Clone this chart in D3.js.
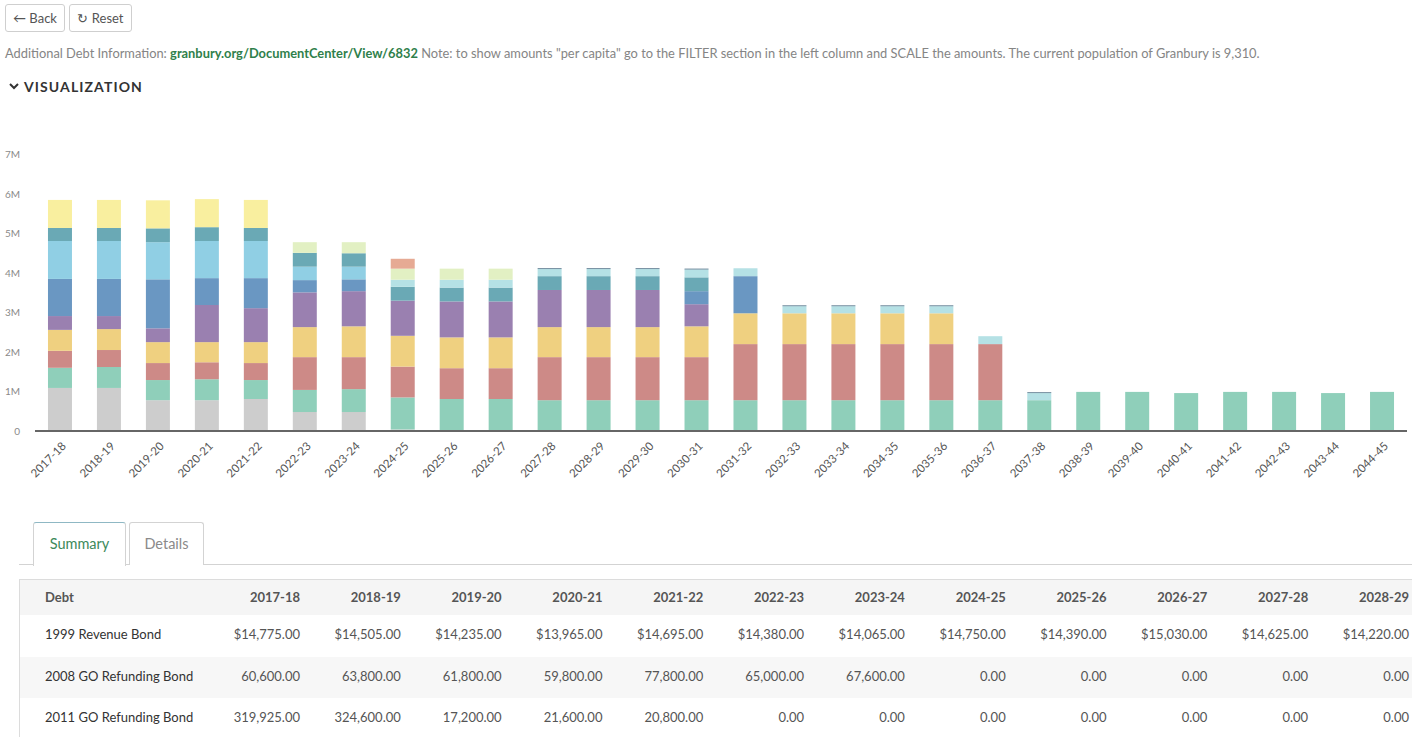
<!DOCTYPE html>
<html>
<head>
<meta charset="utf-8">
<script src="https://cdn.jsdelivr.net/npm/d3@7/dist/d3.min.js"></script>
<style>
  html, body { margin: 0; padding: 0; background: #fff; width: 1412px; height: 737px; overflow: hidden; font-family: Lato, "Open Sans", sans-serif; }
  .abs { position: absolute; }
  .btn { position: absolute; top: 4px; height: 26px; border: 1px solid #cfcfcf; border-radius: 3px; font-size: 13px; color: #555; line-height: 26px; box-sizing: content-box; text-align: center; }
  #info { position: absolute; left: 5px; top: 45px; font-size: 12.85px; color: #858585; white-space: nowrap; }
  #info b { color: #2f7f4b; font-weight: 700; }
  #vis { position: absolute; left: 24px; top: 78px; font-size: 14px; font-weight: 700; color: #333; letter-spacing: 1.1px; }
  .tab { position: absolute; top: 522px; height: 42px; border: 1px solid #d3d3d3; border-bottom: none; border-radius: 3px 3px 0 0; font-size: 14.5px; line-height: 42px; text-align: center; background: #fff; }
  .cell { position: absolute; font-size: 13px; color: #555; white-space: nowrap; }
</style>
</head>
<body>
<script>
// ---------- data ----------
const years = ["2017-18","2018-19","2019-20","2020-21","2021-22","2022-23","2023-24","2024-25","2025-26","2026-27","2027-28","2028-29","2029-30","2030-31","2031-32","2032-33","2033-34","2034-35","2035-36","2036-37","2037-38","2038-39","2039-40","2040-41","2041-42","2042-43","2043-44","2044-45"];

// values in millions of dollars, stacked bottom to top
const seriesGray      = [1.09,1.09,0.78,0.78,0.81,0.48,0.48,0.04,0,0,0,0,0,0,0,0,0,0,0,0,0,0,0,0,0,0,0,0];
const seriesGreen     = [0.51,0.53,0.51,0.53,0.48,0.56,0.58,0.81,0.81,0.81,0.78,0.78,0.78,0.78,0.78,0.78,0.78,0.78,0.78,0.78,0.78,0.99,0.99,0.96,0.99,0.99,0.96,0.99];
const seriesRed       = [0.43,0.43,0.43,0.43,0.43,0.83,0.81,0.78,0.78,0.78,1.09,1.09,1.09,1.09,1.42,1.42,1.42,1.42,1.42,1.42,0,0,0,0,0,0,0,0];
const seriesOrange    = [0.53,0.53,0.53,0.51,0.53,0.76,0.78,0.78,0.78,0.78,0.76,0.76,0.76,0.78,0.78,0.78,0.78,0.78,0.78,0,0,0,0,0,0,0,0,0];
const seriesPurple    = [0.35,0.33,0.35,0.94,0.86,0.88,0.89,0.89,0.91,0.91,0.94,0.94,0.94,0.56,0,0,0,0,0,0,0,0,0,0,0,0,0,0];
const seriesBlue      = [0.94,0.94,1.24,0.68,0.76,0.31,0.30,0,0,0,0,0,0,0.33,0.94,0,0,0,0,0,0,0,0,0,0,0,0,0];
const seriesLightBlue = [0.96,0.96,0.94,0.94,0.94,0.34,0.32,0,0,0,0,0,0,0,0,0,0,0,0,0,0,0,0,0,0,0,0,0];
const seriesTeal      = [0.33,0.33,0.35,0.35,0.33,0.35,0.34,0.35,0.35,0.35,0.35,0.35,0.35,0.35,0,0,0,0,0,0,0,0,0,0,0,0,0,0];
const seriesYellow    = [0.71,0.71,0.71,0.71,0.71,0,0,0,0,0,0,0,0,0,0,0,0,0,0,0,0,0,0,0,0,0,0,0];
const seriesPaleCyan  = [0,0,0,0,0,0,0,0.18,0.20,0.20,0.18,0.18,0.18,0.20,0.20,0.18,0.18,0.18,0.18,0.20,0.18,0,0,0,0,0,0,0];
const seriesLimeGreen = [0,0,0,0,0,0.27,0.28,0.28,0.28,0.28,0,0,0,0,0,0,0,0,0,0,0,0,0,0,0,0,0,0];
const seriesSalmon    = [0,0,0,0,0,0,0,0.25,0,0,0,0,0,0,0,0,0,0,0,0,0,0,0,0,0,0,0,0];
const seriesSlate     = [0,0,0,0,0,0,0,0,0,0,0.02,0.02,0.02,0.02,0,0.02,0.02,0.02,0.02,0,0.02,0,0,0,0,0,0,0];

const seriesNames  = ["gray","green","red","orange","purple","blue","lightblue","teal","yellow","palecyan","limegreen","salmon","slate"];
const seriesValues = [seriesGray,seriesGreen,seriesRed,seriesOrange,seriesPurple,seriesBlue,seriesLightBlue,seriesTeal,seriesYellow,seriesPaleCyan,seriesLimeGreen,seriesSalmon,seriesSlate];
const seriesColors = ["#cdcdcd","#8fcfba","#cd8a87","#efd080","#9a80b0","#6a97c2","#90cfe4","#6aa9b5","#f9ef9f","#b5e1e5","#e2f0c3","#e6aa94","#4f6f86"];

const yTicks = [0,1,2,3,4,5,6,7];

// table
const tableYears = ["2017-18","2018-19","2019-20","2020-21","2021-22","2022-23","2023-24","2024-25","2025-26","2026-27","2027-28","2028-29"];
const tableDebts = ["1999 Revenue Bond","2008 GO Refunding Bond","2011 GO Refunding Bond"];
const row1999 = ["$14,775.00","$14,505.00","$14,235.00","$13,965.00","$14,695.00","$14,380.00","$14,065.00","$14,750.00","$14,390.00","$15,030.00","$14,625.00","$14,220.00"];
const row2008 = ["60,600.00","63,800.00","61,800.00","59,800.00","77,800.00","65,000.00","67,600.00","0.00","0.00","0.00","0.00","0.00"];
const row2011 = ["319,925.00","324,600.00","17,200.00","21,600.00","20,800.00","0.00","0.00","0.00","0.00","0.00","0.00","0.00"];
const tableRows = [row1999,row2008,row2011];

// ---------- page chrome ----------
const body = d3.select("body");
body.append("div").attr("class","btn").style("left","5px").style("width","58px").html("&#8592; Back");
body.append("div").attr("class","btn").style("left","69px").style("width","61px").html("&#8635; Reset");
body.append("div").attr("id","info").html('Additional Debt Information: <b>granbury.org/DocumentCenter/View/6832</b> Note: to show amounts "per capita" go to the FILTER section in the left column and SCALE the amounts. The current population of Granbury is 9,310.');
body.append("div").attr("id","vis").text("VISUALIZATION");

// ---------- chart ----------
const svg = body.append("svg").attr("class","abs").style("left","0px").style("top","0px")
  .attr("width",1412).attr("height",500).style("pointer-events","none");

// chevron
svg.append("path").attr("d","M10,84 L14,88 L18,84").attr("fill","none").attr("stroke","#333").attr("stroke-width",2);

const x = d3.scaleBand().domain(years).range([35, 1407]).paddingInner(0.51).paddingOuter(0.265);
const y = d3.scaleLinear().domain([0,7]).range([431, 154.5]);

const table = years.map((yr,i) => {
  const o = {year: yr};
  seriesNames.forEach((n,k) => o[n] = seriesValues[k][i]);
  return o;
});
const stack = d3.stack().keys(seriesNames)(table);
const color = d3.scaleOrdinal().domain(seriesNames).range(seriesColors);

svg.append("g").selectAll("g").data(stack).join("g")
  .attr("fill", d => color(d.key))
  .selectAll("rect").data(d => d).join("rect")
  .attr("x", d => x(d.data.year))
  .attr("width", x.bandwidth())
  .attr("y", d => y(d[1]))
  .attr("height", d => Math.max(0, y(d[0]) - y(d[1])));

// y axis labels
const yAxis = d3.axisLeft(y).tickValues(yTicks).tickSize(0).tickPadding(0)
  .tickFormat(d => d === 0 ? "0" : d + "M");
const gy = svg.append("g").attr("transform","translate(20,0)").call(yAxis);
gy.select(".domain").remove();
gy.selectAll("text").attr("fill","#8a8a8a").style("font-size","10px").style("font-family","Lato, sans-serif");

// x axis
const xAxis = d3.axisBottom(x).tickSize(0).tickPadding(0);
const gx = svg.append("g").attr("transform","translate(0,431)").call(xAxis);
gx.select(".domain").attr("stroke","#666").attr("stroke-width",2).attr("d","M35,0H1407");
gx.selectAll("text")
  .attr("fill","#555").style("font-size","11.5px").style("font-family","Lato, sans-serif")
  .attr("text-anchor","end").attr("dy","0.35em")
  .attr("transform","translate(4,13) rotate(-45)");

// ---------- tabs ----------
body.append("div").attr("class","abs").style("left","19px").style("top","564px").style("width","1393px").style("height","1px").style("background","#d3d3d3");
body.append("div").attr("class","tab").style("left","33px").style("width","91px").style("color","#3d8a5b")
  .style("border-top","1px solid #8fb8c4").style("height","43px").text("Summary");
body.append("div").attr("class","tab").style("left","129px").style("width","73px").style("color","#8a8a8a").text("Details");

// ---------- table ----------
const tableTop = 579;
const headerH = 35, rowH = 41.5;
const colRight = d3.scalePoint().domain(tableYears).range([300, 1409]);
body.append("div").attr("class","abs").style("left","19px").style("top",tableTop+"px").style("width","1393px").style("height",headerH+"px")
  .style("background","#f5f5f5").style("border-top","1px solid #dcdcdc").style("border-bottom","1px solid #dcdcdc");
tableRows.forEach((r,i) => {
  body.append("div").attr("class","abs").style("left","19px").style("top",(tableTop+headerH+1+i*rowH)+"px")
    .style("width","1393px").style("height",rowH+"px").style("background", i===1 ? "#f7f7f7" : "#fff");
});
body.append("div").attr("class","abs").style("left","19px").style("top",tableTop+"px").style("width","1px").style("height","160px").style("background","#dcdcdc");

body.append("div").attr("class","cell").style("left","45px").style("top",(tableTop+10)+"px").style("font-weight","700").style("color","#555").text("Debt");
body.selectAll(".hcell").data(tableYears).join("div").attr("class","cell hcell")
  .style("left", d => (colRight(d) - 100) + "px").style("width","100px").style("text-align","right")
  .style("top",(tableTop+10)+"px").style("font-weight","700").style("color","#555").text(d => d);

tableDebts.forEach((name,i) => {
  const top = tableTop + headerH + 1 + i*rowH + 11;
  body.append("div").attr("class","cell").style("left","45px").style("top",top+"px").style("color","#333").text(name);
  body.selectAll(".r"+i).data(tableRows[i]).join("div").attr("class","cell r"+i)
    .style("left", (d,j) => (colRight(tableYears[j]) - 100) + "px").style("width","100px").style("text-align","right")
    .style("top", top+"px").text(d => d);
});
</script>
</body>
</html>
